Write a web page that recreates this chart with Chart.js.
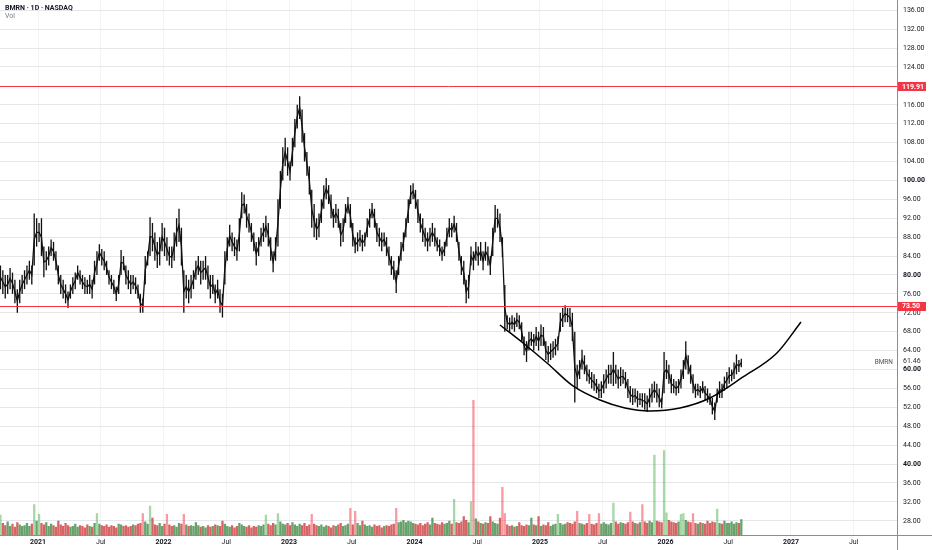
<!DOCTYPE html>
<html><head><meta charset="utf-8">
<script src="https://cdn.jsdelivr.net/npm/chart.js@4.4.1/dist/chart.umd.min.js"></script>
<style>
html,body{margin:0;padding:0;background:#fff;}
#wrap{position:relative;width:932px;height:550px;}
#title{position:absolute;left:5px;top:4px;font:bold 7px Roboto, sans-serif;color:#131722;white-space:nowrap;}
#vol{position:absolute;left:5px;top:12px;font:7px Roboto, sans-serif;color:#787b86;}
</style></head>
<body><div id="wrap"><canvas id="c" width="932" height="550"></canvas>
<div id="title">BMRN · 1D · NASDAQ</div><div id="vol">Vol</div></div>
<script>
// ---- data (weekly ranges) ----
const startYear = 2020.7004;
const weekStep = 1 / 52;
const lows = [
77,76,75,76,77,76,74,72,74,76,
77,78,79,78,82,86,87,84,79.5,81,
82,84,83,81,78,76,75,74,73,75,
76,77,79,78,77,76,76,76,75,78,
80,83,82,81,80,78,77,76,74.5,76,
80,81,78,77,76,77,76,75,72,72,
78,82,84,85,83,81.5,82,85,84,83,
82,81.5,83,86,87,82,72,75,74,75,
77,79,80,78,79,79,77,75,76,74,
75,72,71,78,83,86,85,84,83,85,
92,93,90,89,87,85,82,84,86,87,
88,86,83,80.6,83,86,94,100,103,101,
100,103,107,111,113,108,104,101,97,90,
88,87.4,88,91,94,96,95,92,90,91,
90,86,87,91,93,90,86,84.6,85,86,
85,86,88,90,92,90,87,86,85,86,
84,82,80,79,76.2,80,83,85,88,91,
95,96,94,91,89,87,86,85,86,87,
86,85,84,83,84,86,88,88,89,87,
83,80,78,74,75,82,81,83,82,83,
81,83,82,80,84,89,90,87,83.8,68,
68.5,68,68.5,68,69,68.5,66,63,61.6,64,
65,64,65,64,65,65,62,61.5,62,62.5,
63,64,68,69,70,70,69,66,53,56,
58,60,59,57.5,57,56,55.5,55,54,54,
55,56,57,57,56.5,57,56,56.5,57,56,
54,53,52.5,53,52,52.5,52,51.5,51,52,
53,54,53,52,51.8,55,58,57,55,55,
54.5,55,56,58,60,59,57,55,54,54.5,
54,55,53.5,53,52.5,50.5,49.3,53,54,54,
55.5,56,57,57.5,58,59,59.5,60.5
];
const highs = [
82,81,80,80,81.5,80.5,79,77,79,80,
81,82,83,82,93,92,91,92,86,85,
86,87.5,87,85,82,80,79,78,76.5,78,
79.5,80.5,82,81,80,79.5,79,80,79,83,
85,86.5,85.5,85,83,81,80,79,77.5,80,
85.3,84,82,81,80,80,79.5,78,76,75,
84,85,92.2,91,89,87,88,91,90,88,
86,86,89,92,94,90,81,80,79,80,
81,83,84,83,83,84,82,80,80,78,
79,77,76,85,88,90.6,89,88,87.5,92,
97.5,97,95,93,91,89,87,88,90,91,
92.5,91,88,85,88,96,102,107,109,107,
104,109,113,116,117.8,115,110,106,103,98,
95,92,93,96,99,100.5,99,97,94,95,
94,91,92,95,96.5,95,91,88,89,89.5,
88.5,89,92,94,95.2,94,91,90,89,89,
88,86,84,83,81,84,87,89,92,96,
99,99.4,98,96,93,92,90,89,90,91,
90,88,87.5,86,87,90,92,91,92.5,91,
87,84,83,79,80,86,85,87,86,87,
85,87,86,84,90,94.8,94,93,88,77.9,
71.5,71,71.5,71,72,71.5,70,67,66,68,
68,67.5,69,68,69.5,69,66,65,65.5,66,
66.5,67,72,73,73.6,73,73,72,68,61,
62,64.2,63,61,60,59.5,59,58,57,57.5,
59,60,61,61,63.7,61,60,60.5,60,59.5,
58,56.5,56,56,55.5,55,55,55,54.5,56,
57,57.5,57,56,54,63.7,62,61,59,58,
57.5,58,60,62,66,63,61,59,57,57,
56.5,57.5,56.5,56,55,54,53,56,57.5,57,
58.5,59.5,60.5,60,61.5,63.2,62,62.3
];
// volume in millions of shares (weekly peak)
const volumes = [
2.7,1.6,1.3,1.8,1.2,1.5,1.1,1.7,1.4,1.2,
1.3,1.6,1.2,1.5,4.1,1.9,2.8,1.6,1.4,1.7,
1.2,1.5,1.3,1.1,1.9,1.4,1.2,1.6,1.3,1.1,
1.2,1.5,1.1,1.3,1.2,1.0,1.4,1.2,1.1,1.6,
2.9,1.5,1.3,1.2,1.4,1.1,1.3,1.2,1.0,1.5,
1.4,1.2,1.3,1.1,1.2,1.4,1.3,1.5,1.6,2.9,
1.8,1.5,3.9,2.3,1.4,1.3,1.6,1.2,1.5,2.8,
1.4,1.2,1.3,1.1,1.6,1.5,2.8,1.4,1.2,1.3,
1.2,1.7,1.3,1.1,1.2,1.0,1.3,1.1,1.2,1.4,
1.3,1.2,1.9,1.5,1.2,1.1,1.3,1.0,1.2,1.6,
1.4,1.2,1.1,1.3,1.0,1.2,1.1,1.3,1.2,1.4,
2.7,1.5,1.3,1.6,1.4,2.9,1.8,1.5,1.4,1.6,
1.3,1.7,1.4,1.2,1.5,1.3,1.6,1.2,1.4,2.8,
1.5,1.3,1.2,1.4,1.1,1.3,1.2,1.0,1.3,1.2,
1.4,1.6,1.2,1.3,1.5,3.6,1.4,3.2,1.6,1.3,
1.9,1.4,1.2,1.3,1.1,1.4,1.2,1.3,1.0,1.2,
1.3,1.2,1.4,1.5,3.6,1.7,1.8,2.0,1.7,1.9,
1.8,1.6,1.5,1.4,1.6,1.3,1.5,1.7,1.4,2.3,
1.6,1.5,1.4,1.7,1.5,1.6,1.9,1.5,4.8,1.7,
1.6,1.8,2.5,2.0,1.7,4.5,18,2.2,1.8,1.6,
1.5,1.7,1.6,2.5,1.8,1.6,1.5,2.3,6.4,2.9,
1.4,1.2,1.3,1.1,1.2,1.7,1.3,1.2,1.4,1.3,
2.3,1.4,1.3,2.5,1.2,1.4,1.3,1.7,1.2,1.4,
1.5,2.8,1.6,1.4,1.5,1.7,1.6,1.5,1.8,3.2,
1.6,1.5,1.4,1.6,2.8,1.5,1.4,1.6,2.9,1.5,
1.7,1.5,1.4,1.6,4.3,1.8,1.5,1.7,1.6,1.5,
1.7,3.1,1.8,1.6,1.5,1.7,4.1,1.8,1.6,1.9,
1.7,10.7,1.9,1.8,1.7,11.3,3.0,2.0,1.8,1.7,
1.6,1.8,2.8,2.9,2.0,1.8,1.7,2.9,1.6,1.5,
1.7,1.6,1.5,1.9,1.6,1.8,1.7,3.5,1.6,1.5,
1.9,1.6,1.6,1.8,1.5,1.7,1.6,2.1
];
const levels = [119.91, 73.50];
const lastPrice = 61.46;
const symbol = 'BMRN';
// hand-drawn arc (time in years, price)
const curveTimes  = [2024.681,2024.865,2025.056,2025.263,2025.478,2025.677,2025.876,2026.116,2026.355,2026.618,2026.888,2027.080];
const curvePrices = [69.42,65.61,61.38,56.52,53.56,51.87,51.23,51.87,53.98,58.42,63.50,70.06];
const priceTicks = [28,32,36,40,44,48,52,56,60,64,68,72,76,80,84,88,92,96,100,104,108,112,116,124,128,132,136];
const timeTicks = [2021,2021.5,2022,2022.5,2023,2023.5,2024,2024.5,2025,2025.5,2026,2026.5,2027,2027.5];

// ---- build datasets ----
const n = Math.min(lows.length, highs.length, volumes.length);
const priceData = [], midData = [], volData = [], volColors = [];
for (let i = 0; i < n; i++) {
  const t = startYear + i * weekStep;
  priceData.push({x: t, y: [lows[i], highs[i]]});
  midData.push({x: t, y: (lows[i] + highs[i]) / 2});
  volData.push({x: t, y: volumes[i]});
  const mid = (lows[i] + highs[i]) / 2;
  const prev = i > 0 ? (lows[i-1] + highs[i-1]) / 2 : mid;
  const up = mid >= prev;
  const tall = volumes[i] > 2.6;
  volColors.push(up ? (tall ? 'rgba(76,175,80,0.5)' : 'rgba(46,125,50,0.72)')
                    : (tall ? 'rgba(242,54,69,0.5)' : 'rgba(198,40,40,0.72)'));
}
const curveData = curveTimes.map((t, i) => ({x: t, y: curvePrices[i]}));

const FONT = 'Roboto, "Liberation Sans", sans-serif';
const zeroPad = s => { s.paddingTop = 0; s.paddingBottom = 0; s.paddingLeft = 0; s.paddingRight = 0; };
const overlay = {
  id: 'overlay',
  afterDatasetsDraw(chart) {
    const {ctx, chartArea: a, scales: {y}} = chart;
    ctx.save();
    levels.forEach(v => {
      const py = Math.round(y.getPixelForValue(v)) + 0.5;
      ctx.strokeStyle = '#f23645'; ctx.lineWidth = 1;
      ctx.beginPath(); ctx.moveTo(a.left, py); ctx.lineTo(a.right, py); ctx.stroke();
    });
    ctx.restore();
  },
  afterDraw(chart) {
    const {ctx, chartArea: a, scales: {y}} = chart;
    ctx.save();
    ctx.strokeStyle = '#8a8d96'; ctx.lineWidth = 1;
    ctx.beginPath();
    ctx.moveTo(a.right + 0.5, 0); ctx.lineTo(a.right + 0.5, chart.height);
    ctx.moveTo(0, a.bottom + 0.5); ctx.lineTo(chart.width, a.bottom + 0.5);
    ctx.stroke();
    ctx.textBaseline = 'middle';
    levels.forEach(v => {
      const py = y.getPixelForValue(v);
      ctx.fillStyle = '#f23645';
      ctx.fillRect(a.right + 1, Math.round(py) - 4, 28, 9);
      ctx.fillStyle = '#ffffff';
      ctx.font = 'bold 7px ' + FONT;
      ctx.textAlign = 'left';
      ctx.fillText(v.toFixed(2), a.right + 5, py + 0.5);
    });
    const lp = y.getPixelForValue(lastPrice);
    ctx.font = '6.5px ' + FONT;
    ctx.fillStyle = '#50535e';
    ctx.textAlign = 'right';
    ctx.fillText(symbol, a.right - 4, lp);
    ctx.textAlign = 'left';
    ctx.fillStyle = '#2a2e39';
    ctx.font = '7px ' + FONT;
    ctx.fillText(lastPrice.toFixed(2), a.right + 6, lp - 1);
    ctx.restore();
  }
};

new Chart(document.getElementById('c'), {
  data: {
    datasets: [
      {type: 'line', data: curveData, borderColor: '#000', borderWidth: 1.5, pointRadius: 0,
       cubicInterpolationMode: 'monotone', xAxisID: 'x', yAxisID: 'y', order: 1},
      {type: 'line', data: midData, borderColor: '#111', borderWidth: 1.3, pointRadius: 0,
       tension: 0, xAxisID: 'x', yAxisID: 'y', order: 2},
      {type: 'bar', data: priceData, backgroundColor: '#111', borderWidth: 0, grouped: false,
       barPercentage: 0.55, categoryPercentage: 1, xAxisID: 'x', yAxisID: 'y', order: 3},
      {type: 'bar', data: volData, backgroundColor: volColors, borderWidth: 0, grouped: false,
       barPercentage: 0.95, categoryPercentage: 1, xAxisID: 'x', yAxisID: 'yVol', order: 4}
    ]
  },
  options: {
    responsive: false, animation: false, events: [],
    layout: {padding: 0},
    plugins: {legend: {display: false}, tooltip: {enabled: false}},
    scales: {
      x: {
        type: 'linear', min: 2020.697, max: 2027.845, offset: false,
        afterBuildTicks: s => { s.ticks = timeTicks.map(v => ({value: v})); },
        afterFit: s => { s.height = 15; zeroPad(s); },
        grid: {color: 'rgba(42,46,57,0.05)', drawTicks: false, offset: false},
        border: {display: false},
        ticks: {
          padding: 3, color: '#131722', maxRotation: 0, autoSkip: false,
          callback: v => Number.isInteger(v) ? String(v) : 'Jul',
          font: c => ({size: 7, family: FONT, weight: Number.isInteger(c.tick && c.tick.value) ? 'bold' : 'normal'})
        }
      },
      y: {
        type: 'linear', position: 'right', min: 25.0, max: 138.16,
        afterBuildTicks: s => { s.ticks = priceTicks.map(v => ({value: v})); },
        afterFit: s => { s.width = 35; zeroPad(s); },
        grid: {color: '#e6e7ea', drawTicks: false},
        border: {display: false},
        ticks: {
          padding: 6, color: '#131722', autoSkip: false,
          callback: v => Number(v).toFixed(2),
          font: c => ({size: 7, family: FONT, weight: (c.tick && c.tick.value % 20 === 0) ? 'bold' : 'normal'})
        }
      },
      yVol: {type: 'linear', display: false, min: 0, max: 71.33, afterFit: zeroPad}
    }
  },
  plugins: [overlay]
});
</script>
</body></html>
